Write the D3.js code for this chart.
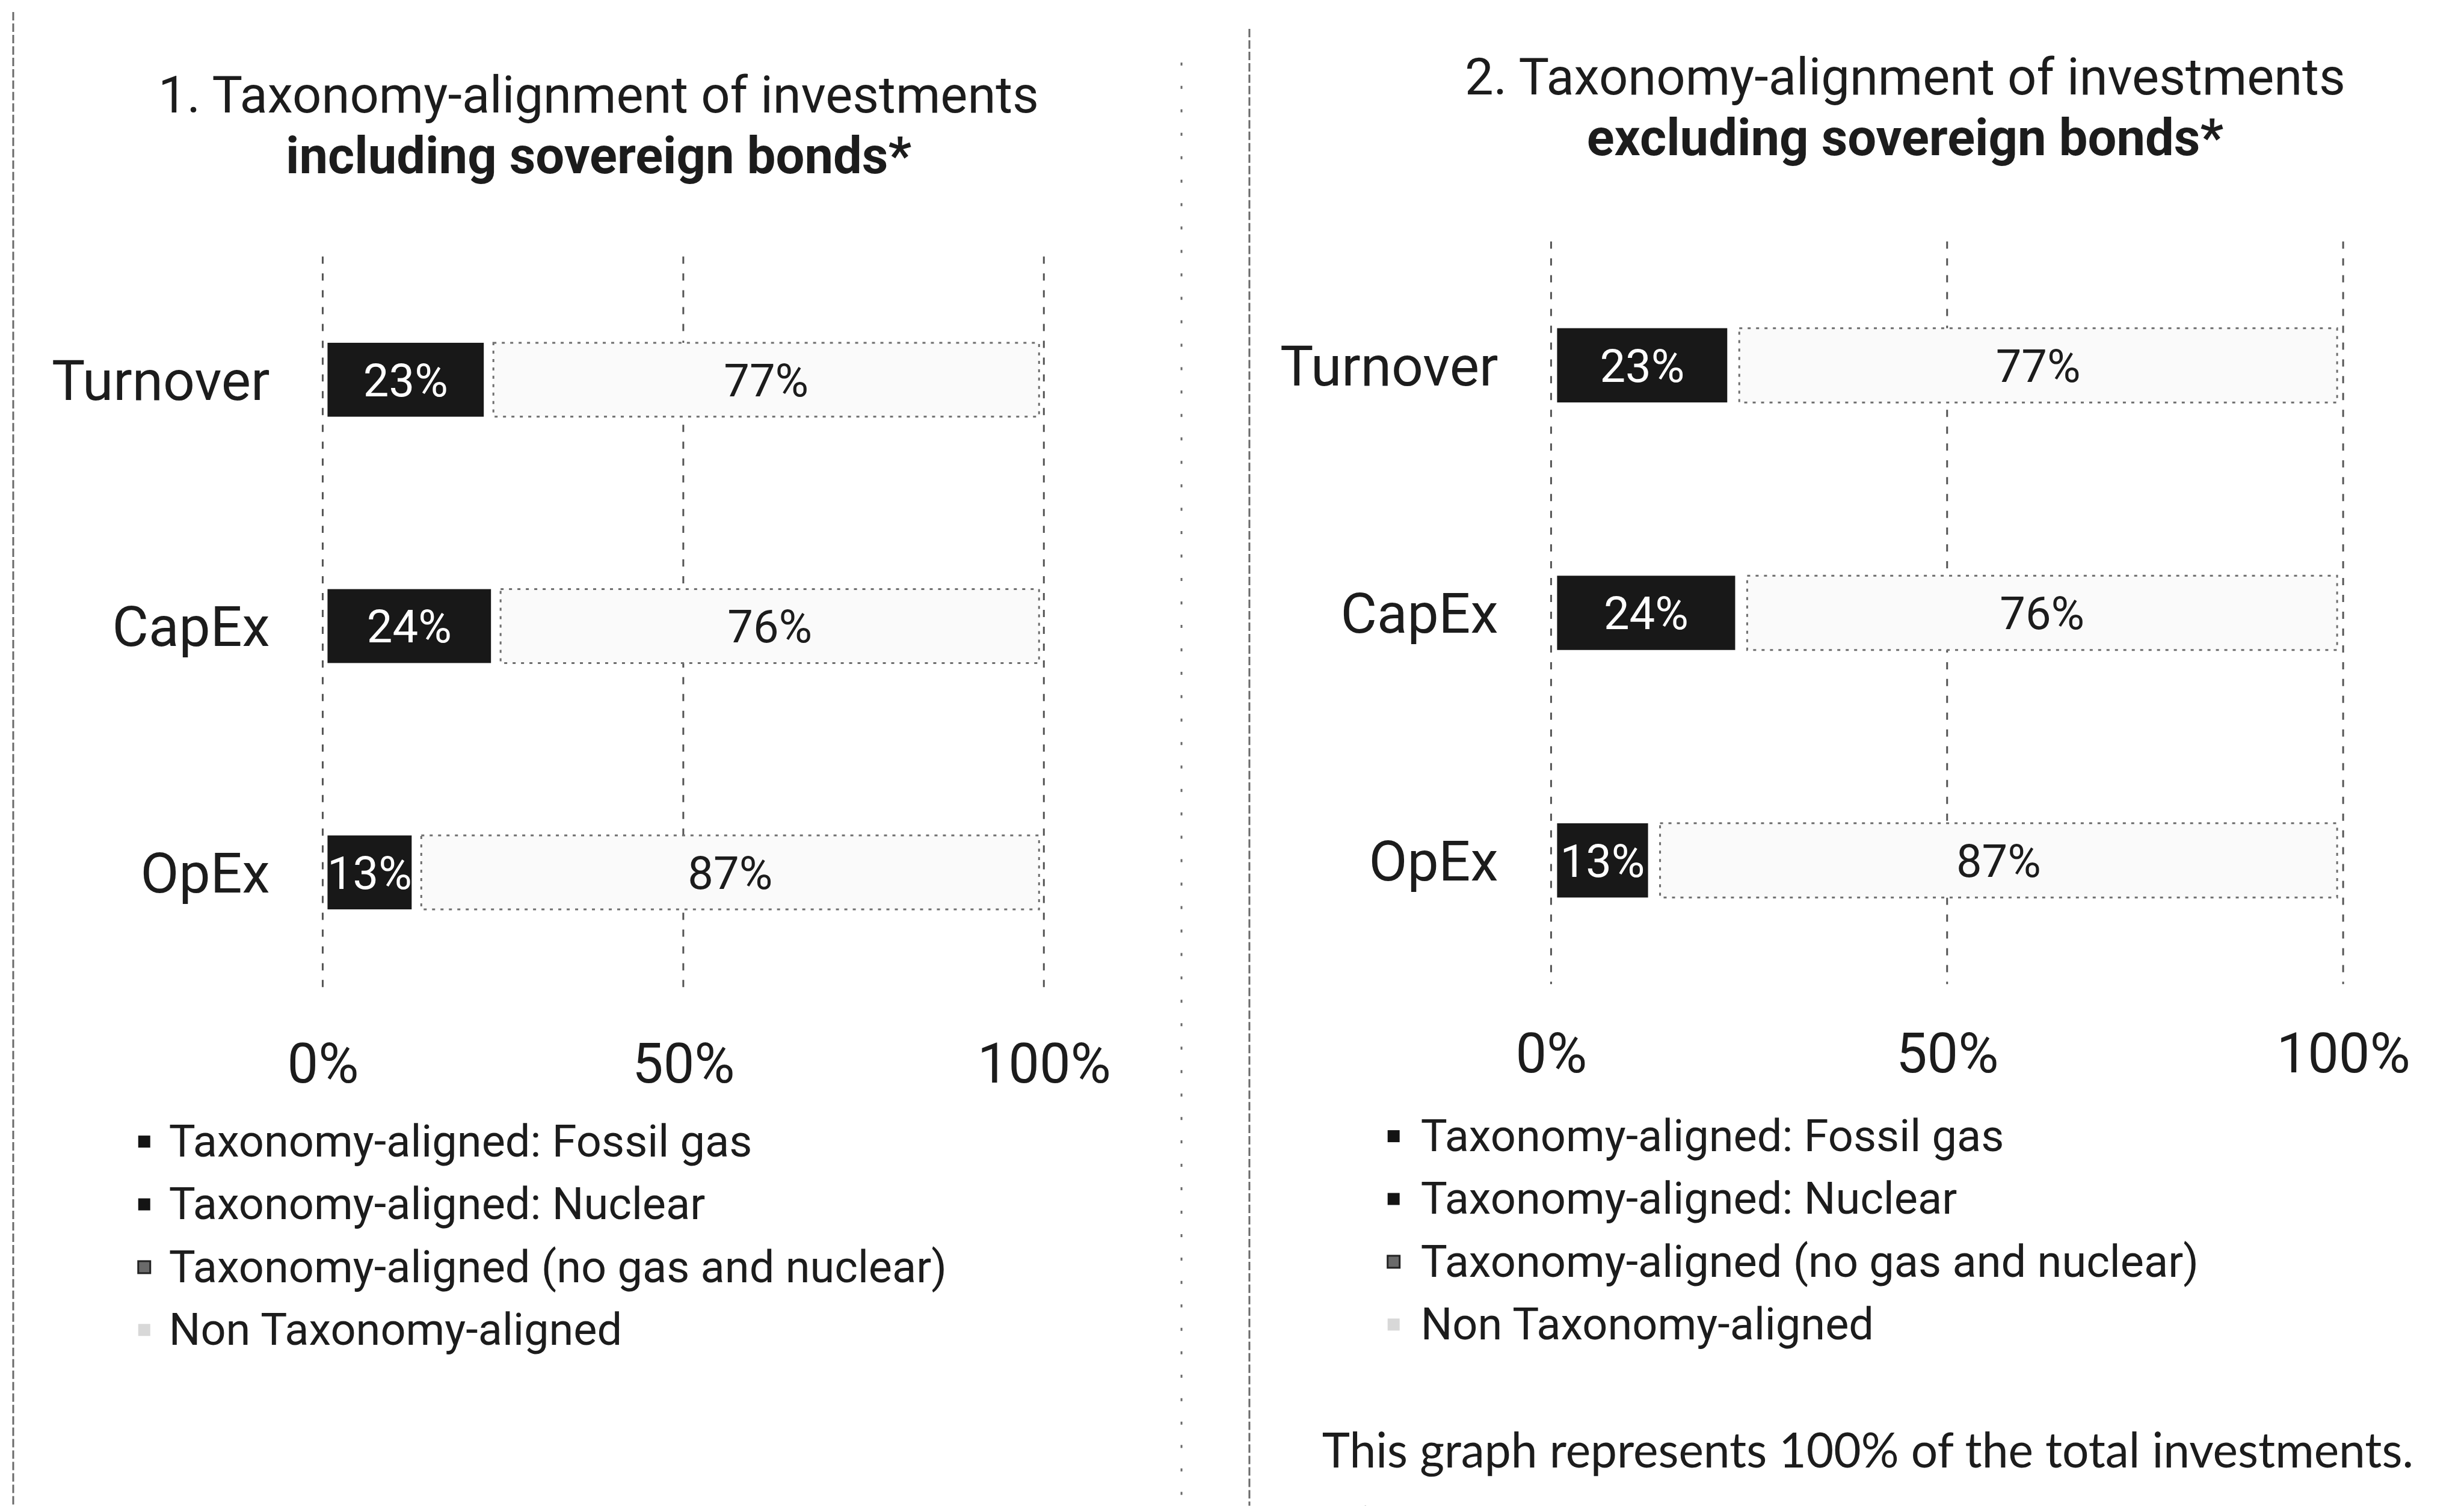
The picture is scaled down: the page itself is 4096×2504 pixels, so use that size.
<!DOCTYPE html>
<html>
<head>
<meta charset="utf-8">
<script src="https://cdn.jsdelivr.net/npm/d3@7/dist/d3.min.js"></script>
<style>
body { margin: 0; background: #fff; }
svg { display: block; }
text { font-family: Roboto, "Noto Sans", sans-serif; fill: #1c1c1c; }
</style>
</head>
<body>
<div id="chart"></div>
<script>

// DATA //
var categories = ["Turnover", "CapEx", "OpEx"];
var seriesKeys = ["fossil", "nuclear", "aligned", "non"];
var seriesNames = [
	"Taxonomy-aligned: Fossil gas",
	"Taxonomy-aligned: Nuclear",
	"Taxonomy-aligned (no gas and nuclear)",
	"Non Taxonomy-aligned"
];

// 1. including sovereign bonds
var inclFossil  = [0, 0, 0];
var inclNuclear = [0, 0, 0];
var inclAligned = [23, 24, 13];
var inclNon     = [77, 76, 87];

// 2. excluding sovereign bonds
var exclFossil  = [0, 0, 0];
var exclNuclear = [0, 0, 0];
var exclAligned = [23, 24, 13];
var exclNon     = [77, 76, 87];

var tickValues = [0, 50, 100];
var tickLabels = ["0%", "50%", "100%"];

var titles1 = ["1. Taxonomy-alignment of investments", "including sovereign bonds*"];
var titles2 = ["2. Taxonomy-alignment of investments", "excluding sovereign bonds*"];
var footnote = "This graph represents 100% of the total investments.";
var footnote2 = "* For the purpose of these graphs, 'sovereign bonds' consist of all sovereign exposures";


function makeRows(fossil, nuclear, aligned, non) {
	return categories.map(function(c, i) {
		return {category: c, fossil: fossil[i], nuclear: nuclear[i], aligned: aligned[i], non: non[i]};
	});
}

var fills = {fossil: "#151515", nuclear: "#2a2a2a", aligned: "#181818", non: "#fafafa"};


/*
 *  StackedBars - one panel (title, bars, axis, legend)
 */

StackedBars = function(_parent, _data, _layout) {
	this.parent = _parent;
	this.data = _data;
	this.layout = _layout;

	this.initVis();
}

StackedBars.prototype.initVis = function() {
	var vis = this;
	var L = vis.layout;

	vis.g = vis.parent.append("g");

	vis.x = d3.scaleLinear().domain([0, 100]).range([L.x0, L.x1]);
	vis.y = d3.scaleBand().domain(categories)
		.range([L.yTop, L.yBottom])
		.paddingInner(0.7)
		.paddingOuter(0.35);

	// TITLE //
	vis.g.append("text")
		.attr("x", L.titleX).attr("y", L.titleY)
		.attr("text-anchor", "middle")
		.style("font-size", "85px")
		.text(L.titles[0]);
	vis.g.append("text")
		.attr("x", L.titleX).attr("y", L.titleY + 101)
		.attr("text-anchor", "middle")
		.style("font-size", "85px").style("font-weight", "700")
		.text(L.titles[1]);

	// GRIDLINES //
	vis.g.selectAll(".grid")
		.data(tickValues)
		.enter().append("line")
		.attr("class", "grid")
		.attr("x1", function(d) { return vis.x(d); })
		.attr("x2", function(d) { return vis.x(d); })
		.attr("y1", L.yTop)
		.attr("y2", L.yBottom)
		.attr("stroke", "#555")
		.attr("stroke-width", 3)
		.attr("stroke-dasharray", "12,16");

	// X AXIS LABELS //
	var xAxis = d3.axisBottom(vis.x)
		.tickValues(tickValues)
		.tickFormat(function(d, i) { return tickLabels[i]; })
		.tickSize(0);
	var xg = vis.g.append("g")
		.attr("transform", "translate(0," + L.tickY + ")")
		.call(xAxis);
	xg.select(".domain").remove();
	xg.selectAll("text")
		.attr("y", 0).attr("dy", 0)
		.style("font-size", "92px")
		.style("font-family", "Roboto")
		.attr("fill", "#1c1c1c");

	// CATEGORY LABELS //
	var yAxis = d3.axisLeft(vis.y).tickSize(0).tickPadding(0);
	var yg = vis.g.append("g")
		.attr("transform", "translate(" + (L.x0 - 88) + ",0)")
		.call(yAxis);
	yg.select(".domain").remove();
	yg.selectAll("text")
		.attr("dy", "0.36em")
		.style("font-size", "93px")
		.style("font-family", "Roboto")
		.attr("fill", "#1c1c1c");

	// LEGEND //
	var leg = vis.g.selectAll(".legend")
		.data(seriesKeys)
		.enter().append("g")
		.attr("class", "legend")
		.attr("transform", function(d, i) { return "translate(" + L.legendX + "," + (L.legendY + i * 104.5) + ")"; });
	leg.append("rect")
		.attr("x", 0).attr("y", -35)
		.attr("width", 20).attr("height", 20)
		.attr("fill", function(d) { return d === "non" ? "#d8d8d8" : (d === "aligned" ? "#6a6a6a" : "#141414"); })
		.attr("stroke", function(d) { return d === "aligned" ? "#222" : "none"; })
		.attr("stroke-width", 3);
	leg.append("text")
		.attr("x", L.legendTextDx).attr("y", 0)
		.style("font-size", "74px")
		.text(function(d, i) { return seriesNames[i]; });

	vis.updateVis();
}

StackedBars.prototype.updateVis = function() {
	var vis = this;
	var inset = vis.layout.inset;

	var stacked = d3.stack().keys(seriesKeys)(vis.data);

	var layer = vis.g.selectAll(".layer")
		.data(stacked)
		.enter().append("g")
		.attr("class", "layer");

	layer.selectAll("rect")
		.data(function(d) { return d.map(function(s) { return {key: d.key, s: s}; }); })
		.enter().append("rect")
		.filter(function(d) { return d.s[1] - d.s[0] > 0; })
		.attr("x", function(d) { return vis.x(d.s[0]) + inset; })
		.attr("width", function(d) { return vis.x(d.s[1]) - vis.x(d.s[0]) - 2 * inset; })
		.attr("y", function(d) { return vis.y(d.s.data.category); })
		.attr("height", vis.y.bandwidth())
		.attr("fill", function(d) { return fills[d.key]; })
		.attr("stroke", function(d) { return d.key === "non" ? "#6e6e6e" : "none"; })
		.attr("stroke-width", 3)
		.attr("stroke-dasharray", function(d) { return d.key === "non" ? "5,9" : null; });

	layer.selectAll(".bar-label")
		.data(function(d) { return d.map(function(s) { return {key: d.key, s: s}; }).filter(function(e) { return e.s[1] - e.s[0] > 0; }); })
		.enter().append("text")
		.attr("class", "bar-label")
		.attr("x", function(d) { return (vis.x(d.s[0]) + vis.x(d.s[1])) / 2; })
		.attr("y", function(d) { return vis.y(d.s.data.category) + vis.y.bandwidth() / 2; })
		.attr("dy", "0.36em")
		.attr("text-anchor", "middle")
		.style("font-size", "76px")
		.style("fill", function(d) { return d.key === "non" ? "#1c1c1c" : "#ffffff"; })
		.text(function(d) { return (d.s[1] - d.s[0]) + "%"; });
}


// DRAW //
var svg = d3.select("#chart").append("svg")
	.attr("width", 4096)
	.attr("height", 2504);

var root = svg.append("g").attr("transform", "scale(0.999)");

// dashed frame lines of the scanned page
var seps = [
	{x: 22, y1: 20, dash: "14,5"},
	{x: 1966, y1: 104, dash: "5,34"},
	{x: 2079, y1: 48, dash: "14,5"}
];
root.selectAll(".sep")
	.data(seps)
	.enter().append("line")
	.attr("x1", function(d) { return d.x; }).attr("x2", function(d) { return d.x; })
	.attr("y1", function(d) { return d.y1; }).attr("y2", 2506)
	.attr("stroke", "#6a6a6a")
	.attr("stroke-width", 3)
	.attr("stroke-dasharray", function(d) { return d.dash; });

new StackedBars(root, makeRows(inclFossil, inclNuclear, inclAligned, inclNon), {
	titles: titles1, titleX: 996, titleY: 187,
	x0: 537, x1: 1737, yTop: 427, yBottom: 1657, tickY: 1802,
	legendX: 230, legendY: 1925, legendTextDx: 51, inset: 8
});

new StackedBars(root, makeRows(exclFossil, exclNuclear, exclAligned, exclNon), {
	titles: titles2, titleX: 3170, titleY: 157,
	x0: 2581, x1: 3899, yTop: 402, yBottom: 1638, tickY: 1785,
	legendX: 2309, legendY: 1916, legendTextDx: 55, inset: 10
});

root.append("text")
	.attr("x", 2200).attr("y", 2442)
	.attr("textLength", 1816).attr("lengthAdjust", "spacingAndGlyphs")
	.style("font-family", "Lato, 'Open Sans', sans-serif")
	.style("font-size", "82px")
	.text(footnote);

// second footnote line: only its top edge shows at the bottom of the page
root.append("text")
	.attr("x", 2262).attr("y", 2568)
	.attr("textLength", 1760).attr("lengthAdjust", "spacingAndGlyphs")
	.style("font-family", "Lato, 'Open Sans', sans-serif")
	.style("font-size", "82px")
	.text(footnote2);

</script>
</body>
</html>
